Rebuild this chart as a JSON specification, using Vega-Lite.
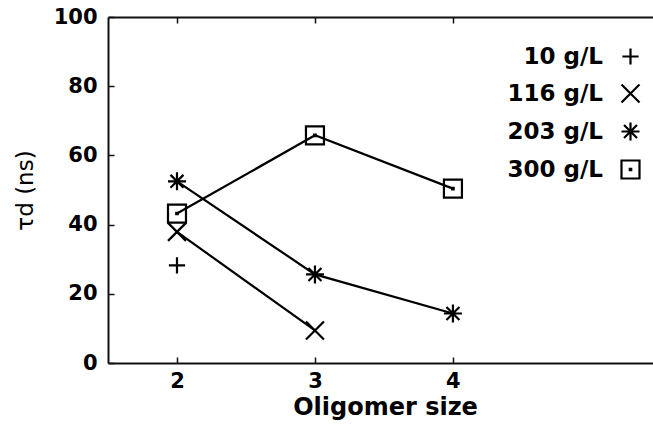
{
  "$schema": "https://vega.github.io/schema/vega-lite/v6.json",
  "width": 545,
  "height": 346,
  "autosize": {"type": "none"},
  "padding": {"left": 108, "top": 17, "right": 0, "bottom": 62},
  "background": "white",
  "config": {
    "font": "DejaVu Sans",
    "view": {"stroke": null},
    "axis": {
      "domainColor": "#111",
      "domainWidth": 2,
      "tickColor": "#111",
      "tickWidth": 1.5,
      "labelColor": "black",
      "titleColor": "black",
      "grid": false
    }
  },
  "data": {
    "values": [
      {"conc": "10 g/L", "size": 2, "tau": 28.2},
      {"conc": "116 g/L", "size": 2, "tau": 37.9},
      {"conc": "116 g/L", "size": 3, "tau": 9.4},
      {"conc": "203 g/L", "size": 2, "tau": 52.5},
      {"conc": "203 g/L", "size": 3, "tau": 25.6},
      {"conc": "203 g/L", "size": 4, "tau": 14.3},
      {"conc": "300 g/L", "size": 2, "tau": 43.2},
      {"conc": "300 g/L", "size": 3, "tau": 65.8},
      {"conc": "300 g/L", "size": 4, "tau": 50.4}
    ]
  },
  "resolve": {"axis": {"x": "independent"}},
  "layer": [
    {
      "mark": {"type": "line", "color": "black", "strokeWidth": 2.2},
      "encoding": {
        "x": {
          "field": "size", "type": "quantitative",
          "scale": {"domain": [1.5, 5.45], "nice": false, "zero": false},
          "axis": {
            "values": [2, 3, 4], "tickSize": -6, "labelPadding": 13,
            "labelFont": "DejaVu Sans", "labelFontWeight": "bold", "labelFontSize": 21,
            "title": "Oligomer size", "titleFont": "DejaVu Sans", "titleFontWeight": "bold",
            "titleFontSize": 24, "titleX": 277, "titleY": 51, "titleBaseline": "alphabetic",
            "titleAnchor": "middle"
          }
        },
        "y": {
          "field": "tau", "type": "quantitative",
          "scale": {"domain": [0, 100], "nice": false},
          "axis": {
            "values": [0, 20, 40, 60, 80, 100], "tickSize": -6, "labelPadding": 17,
            "labelFont": "DejaVu Sans", "labelFontWeight": "bold", "labelFontSize": 21,
            "title": "τd (ns)", "titleFont": "DejaVu Sans", "titleFontWeight": "normal",
            "titleFontSize": 23, "titleX": -83, "titleY": 173, "titleBaseline": "middle",
            "titleAngle": -90
          }
        },
        "detail": {"field": "conc", "type": "nominal"},
        "order": {"field": "size", "type": "quantitative"}
      }
    },
    {
      "mark": {"type": "point", "filled": false, "color": "black", "strokeWidth": 2.2, "size": 324, "opacity": 1},
      "encoding": {
        "x": {"field": "size", "type": "quantitative",
          "axis": {"orient": "top", "values": [2, 3, 4], "tickSize": -6, "labels": false, "title": null}},
        "y": {"field": "tau", "type": "quantitative"},
        "shape": {
          "field": "conc", "type": "nominal",
          "scale": {
            "domain": ["10 g/L", "116 g/L", "203 g/L", "300 g/L"],
            "range": [
              "M-0.9,0H0.9M0,-0.9V0.9",
              "M-1,-1L1,1M-1,1L1,-1",
              "M-1,0H1M0,-1V1M-0.72,-0.72L0.72,0.72M-0.72,0.72L0.72,-0.72",
              "M-1,-1H1V1H-1ZM-0.08,-0.08H0.08V0.08H-0.08Z"
            ]
          },
          "legend": {
            "title": null,
            "orient": "none",
            "legendX": 511,
            "legendY": 28,
            "padding": 0,
            "symbolSize": 324,
            "symbolStrokeWidth": 2.2,
            "symbolStrokeColor": "black",
            "symbolFillColor": "transparent",
            "labelFont": "DejaVu Sans",
            "labelFontWeight": "bold",
            "labelFontSize": 23,
            "labelColor": "black",
            "labelAlign": "right",
            "labelOffset": -39,
            "labelLimit": 200,
            "rowPadding": 11
          }
        }
      }
    }
  ]
}
